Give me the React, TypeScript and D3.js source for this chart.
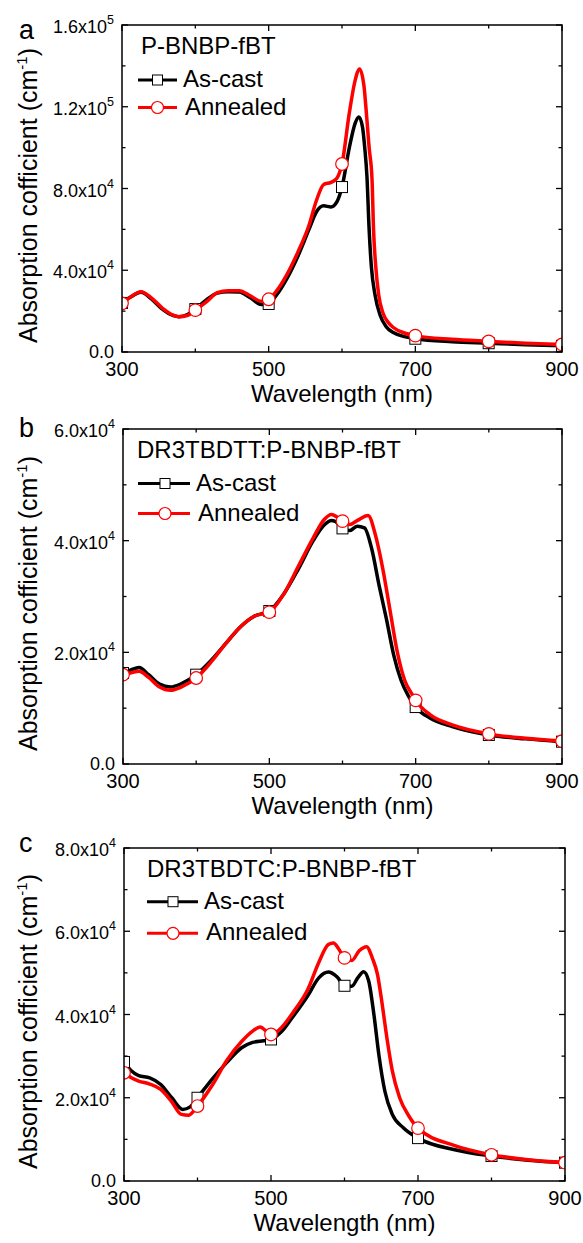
import React from 'react';
import * as d3 from 'd3';

// ---------- data ----------
const xMajorTicks = [300, 500, 700, 900];
const xMinorTicks = [400, 600, 800];
const seriesNames = ['As-cast', 'Annealed'];
const panelLetters = ['a', 'b', 'c'];
const legendTitles = ['P-BNBP-fBT', 'DR3TBDTT:P-BNBP-fBT', 'DR3TBDTC:P-BNBP-fBT'];

// Panel a (P-BNBP-fBT)
const aCastWl = [300, 310, 326, 340, 355, 370, 378, 390, 400, 415, 430, 445, 460, 475, 490, 500, 510, 525, 540, 555, 565, 575, 585, 593, 600, 610, 618, 623, 628, 631, 634, 637, 640, 645, 652, 660, 670, 685, 700, 750, 800, 850, 900];
const aCastVal = [24000, 26500, 29200, 26000, 21000, 17800, 17300, 18500, 21000, 25500, 28800, 29500, 29300, 26500, 23200, 23500, 27500, 36000, 47000, 60000, 68500, 71500, 71000, 73500, 80700, 100000, 112000, 115000, 110000, 100000, 86000, 60000, 42000, 28000, 18000, 12500, 9500, 7500, 6500, 5000, 4300, 3600, 3000];
const aAnnWl = [300, 310, 326, 340, 355, 370, 377, 390, 400, 415, 430, 445, 460, 475, 490, 500, 510, 525, 540, 555, 565, 575, 585, 593, 600, 610, 618, 624, 630, 633, 637, 641, 643, 646, 650, 656, 663, 670, 685, 700, 750, 800, 850, 900];
const aAnnVal = [23800, 26500, 29500, 26500, 21500, 18000, 17300, 18000, 20500, 24500, 29000, 30000, 30000, 27500, 24800, 25800, 29500, 38000, 49000, 62000, 74000, 82000, 83000, 85000, 92000, 117000, 133000, 138500, 130000, 118000, 100000, 84000, 60000, 42000, 28000, 19000, 14500, 12000, 9300, 8000, 6200, 5200, 4300, 3700];
const aYMajor = [0, 40000, 80000, 120000, 160000];
const aYMinor = [20000, 60000, 100000, 140000];

// Panel b (DR3TBDTT:P-BNBP-fBT)
const bCastWl = [300, 310, 322, 335, 350, 365, 380, 400, 420, 440, 460, 480, 500, 520, 540, 560, 575, 585, 595, 600, 610, 620, 630, 640, 650, 660, 670, 680, 690, 700, 720, 750, 800, 850, 900];
const bCastVal = [16300, 16800, 17300, 16000, 14300, 13800, 14400, 16000, 18500, 21500, 24500, 26500, 27400, 30500, 35000, 40000, 42800, 43600, 43000, 42200, 41800, 42600, 42300, 38500, 32000, 26000, 19500, 15000, 12200, 10200, 8200, 6700, 5200, 4500, 4000];
const bAnnWl = [300, 310, 322, 335, 350, 365, 380, 400, 420, 440, 460, 480, 500, 520, 540, 560, 575, 585, 595, 600, 610, 620, 635, 645, 655, 665, 675, 685, 695, 700, 720, 750, 800, 850, 900];
const bAnnVal = [16000, 16300, 16600, 15500, 13800, 13200, 13800, 15400, 18200, 21500, 24500, 26500, 27200, 30500, 35500, 40500, 43800, 44700, 44000, 43500, 42900, 43600, 44500, 41000, 35000, 27500, 20000, 15000, 12500, 11400, 8800, 7000, 5400, 4600, 4100];
const bYMajor = [0, 20000, 40000, 60000];
const bYMinor = [10000, 30000, 50000];

// Panel c (DR3TBDTC:P-BNBP-fBT)
const cCastWl = [300, 310, 320, 335, 350, 365, 380, 390, 400, 420, 440, 460, 475, 490, 500, 515, 530, 550, 565, 578, 590, 600, 610, 618, 626, 633, 640, 647, 655, 665, 680, 700, 750, 800, 850, 900];
const cCastVal = [28600, 26500, 25300, 24800, 23200, 20000, 17200, 17800, 20000, 24500, 28500, 32000, 33300, 33700, 34000, 36000, 39500, 44500, 48800, 50200, 49000, 46900, 46800, 48800, 50300, 48000, 40000, 30000, 21500, 16000, 12800, 10300, 7500, 6000, 5000, 4400];
const cAnnWl = [300, 310, 320, 335, 350, 365, 378, 388, 400, 420, 440, 460, 475, 485, 495, 500, 515, 530, 550, 565, 578, 585, 592, 600, 610, 620, 630, 638, 645, 650, 658, 665, 675, 688, 700, 750, 800, 850, 900];
const cAnnVal = [26000, 24800, 24000, 23300, 22000, 19000, 16000, 15800, 18000, 23000, 29000, 33500, 36000, 37000, 35800, 35200, 37000, 40500, 46000, 52500, 56800, 57200, 55800, 53600, 53000, 55300, 56300, 53500, 49500, 44000, 34000, 26500, 20000, 15500, 12700, 8500, 6300, 5100, 4400];
const cYMajor = [0, 20000, 40000, 60000, 80000];
const cYMinor = [10000, 30000, 50000, 70000];

// ---------- drawing ----------
const FONT = '"Liberation Sans", Arial, Helvetica, sans-serif';

function yLabel(v: number) {
  if (v === 0) return { m: '0.0', e: '' };
  const e = Math.floor(Math.log10(v));
  const m = v / Math.pow(10, e);
  return { m: m.toFixed(1) + 'x10', e: String(e) };
}

type PanelProps = {
  idx: number;
  left: number; right: number; top: number; bottom: number;
  yMax: number; yMajor: number[]; yMinor: number[];
  castWl: number[]; castVal: number[]; annWl: number[]; annVal: number[];
  letterY: number;
  leg: { tx: number; ty: number; lx0: number; lx1: number; mx: number; r1: number; r2: number };
};

function Panel(p: PanelProps) {
  const x = d3.scaleLinear().domain([300, 900]).range([p.left, p.right]);
  const y = d3.scaleLinear().domain([0, p.yMax]).range([p.bottom, p.top]);
  const line = d3.line<[number, number]>().x(d => x(d[0])).y(d => y(d[1])).curve(d3.curveMonotoneX);
  const cast: [number, number][] = p.castWl.map((w, i) => [w, p.castVal[i]]);
  const ann: [number, number][] = p.annWl.map((w, i) => [w, p.annVal[i]]);
  const castM = cast.filter(d => d[0] % 100 === 0);
  const annM = ann.filter(d => d[0] % 100 === 0);
  const clipId = 'clip' + p.idx;
  const cy = (p.top + p.bottom) / 2 + 7;
  const sq = 11;
  return (
    <g>
      <defs>
        <clipPath id={clipId}>
          <rect x={p.left} y={p.top} width={p.right - p.left} height={p.bottom - p.top} />
        </clipPath>
      </defs>
      <g clipPath={`url(#${clipId})`}>
        <path d={line(cast) || ''} fill="none" stroke="#000" strokeWidth={3.5} />
        {castM.map((d, i) => (
          <rect key={'s' + i} x={x(d[0]) - sq / 2} y={y(d[1]) - sq / 2} width={sq} height={sq} fill="#fff" stroke="#000" strokeWidth={1} />
        ))}
        <path d={line(ann) || ''} fill="none" stroke="#ff0000" strokeWidth={3.5} />
        {annM.map((d, i) => (
          <circle key={'c' + i} cx={x(d[0])} cy={y(d[1])} r={6.3} fill="#fff" stroke="#ff0000" strokeWidth={1.2} />
        ))}
      </g>
      <rect x={p.left} y={p.top} width={p.right - p.left} height={p.bottom - p.top} fill="none" stroke="#000" strokeWidth={1.5} />
      {xMajorTicks.map(t => (
        <g key={'xm' + t}>
          <line x1={x(t)} x2={x(t)} y1={p.bottom} y2={p.bottom - 6} stroke="#000" strokeWidth={1.3} />
          <line x1={x(t)} x2={x(t)} y1={p.top} y2={p.top + 6} stroke="#000" strokeWidth={1.3} />
          <text x={x(t)} y={p.bottom + 23.5} fontSize={20} textAnchor="middle" fontFamily={FONT}>{t}</text>
        </g>
      ))}
      {xMinorTicks.map(t => (
        <g key={'xn' + t}>
          <line x1={x(t)} x2={x(t)} y1={p.bottom} y2={p.bottom - 3.5} stroke="#000" strokeWidth={1.3} />
          <line x1={x(t)} x2={x(t)} y1={p.top} y2={p.top + 3.5} stroke="#000" strokeWidth={1.3} />
        </g>
      ))}
      {p.yMajor.map(t => {
        const l = yLabel(t);
        return (
          <g key={'ym' + t}>
            <line x1={p.left} x2={p.left + 6} y1={y(t)} y2={y(t)} stroke="#000" strokeWidth={1.3} />
            <line x1={p.right} x2={p.right - 6} y1={y(t)} y2={y(t)} stroke="#000" strokeWidth={1.3} />
            <text x={p.left - 8} y={y(t) + (t === 0 ? 6 : 8)} fontSize={18} textAnchor="end" fontFamily={FONT}>
              {l.m}
              {l.e && <tspan fontSize={12.5} dy={-9}>{l.e}</tspan>}
            </text>
          </g>
        );
      })}
      {p.yMinor.map(t => (
        <g key={'yn' + t}>
          <line x1={p.left} x2={p.left + 3.5} y1={y(t)} y2={y(t)} stroke="#000" strokeWidth={1.3} />
          <line x1={p.right} x2={p.right - 3.5} y1={y(t)} y2={y(t)} stroke="#000" strokeWidth={1.3} />
        </g>
      ))}
      <text x={(p.left + p.right) / 2} y={p.bottom + 50} fontSize={24} textAnchor="middle" fontFamily={FONT}>Wavelength (nm)</text>
      <text transform={`translate(37,${cy}) rotate(-90)`} fontSize={25} textAnchor="middle" fontFamily={FONT}>
        Absorption cofficient (cm<tspan fontSize={15} dy={-10}>-1</tspan><tspan dy={10}>)</tspan>
      </text>
      <text x={19} y={p.letterY} fontSize={27} fontFamily={FONT}>{panelLetters[p.idx]}</text>
      <text x={p.leg.tx} y={p.leg.ty} fontSize={24} fontFamily={FONT}>{legendTitles[p.idx]}</text>
      <line x1={p.leg.lx0} x2={p.leg.lx1} y1={p.leg.r1} y2={p.leg.r1} stroke="#000" strokeWidth={3} />
      <rect x={p.leg.mx - 5} y={p.leg.r1 - 5} width={10} height={10} fill="#fff" stroke="#000" strokeWidth={1} />
      <text x={p.leg.lx1 + 6} y={p.leg.r1 + 7} fontSize={24} fontFamily={FONT}>{seriesNames[0]}</text>
      <line x1={p.leg.lx0} x2={p.leg.lx1} y1={p.leg.r2} y2={p.leg.r2} stroke="#ff0000" strokeWidth={3} />
      <circle cx={p.leg.mx} cy={p.leg.r2} r={6} fill="#fff" stroke="#ff0000" strokeWidth={1.2} />
      <text x={p.leg.lx1 + 8} y={p.leg.r2 + 7} fontSize={24} fontFamily={FONT}>{seriesNames[1]}</text>
    </g>
  );
}

export default function App() {
  return (
    <svg width={583} height={1243} viewBox="0 0 583 1243" style={{ position: 'absolute', left: 0, top: 0, background: '#fff' }}>
      <rect x={0} y={0} width={583} height={1243} fill="#fff" />
      <Panel idx={0} left={122} right={562} top={25} bottom={352} yMax={160000} yMajor={aYMajor} yMinor={aYMinor}
        castWl={aCastWl} castVal={aCastVal} annWl={aAnnWl} annVal={aAnnVal} letterY={38.5}
        leg={{ tx: 141, ty: 54, lx0: 138, lx1: 177, mx: 157.5, r1: 80, r2: 107.5 }} />
      <Panel idx={1} left={123} right={562} top={429} bottom={764} yMax={60000} yMajor={bYMajor} yMinor={bYMinor}
        castWl={bCastWl} castVal={bCastVal} annWl={bAnnWl} annVal={bAnnVal} letterY={437}
        leg={{ tx: 137, ty: 458, lx0: 138, lx1: 190, mx: 165, r1: 483.5, r2: 513.5 }} />
      <Panel idx={2} left={124} right={565} top={848} bottom={1181} yMax={80000} yMajor={cYMajor} yMinor={cYMinor}
        castWl={cCastWl} castVal={cCastVal} annWl={cAnnWl} annVal={cAnnVal} letterY={852}
        leg={{ tx: 147, ty: 876.5, lx0: 147, lx1: 198, mx: 173, r1: 901.7, r2: 933.3 }} />
    </svg>
  );
}
